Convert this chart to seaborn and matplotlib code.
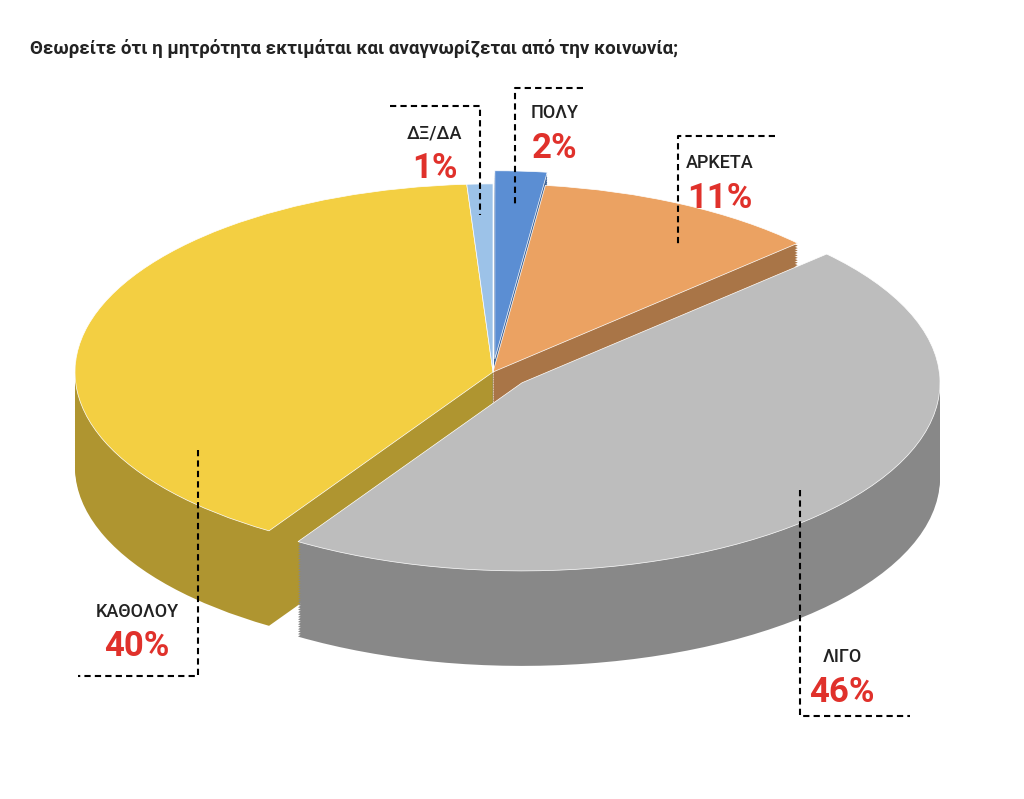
import numpy as np
import matplotlib
matplotlib.use("Agg")
import matplotlib.pyplot as plt
import matplotlib.colors as mcolors
import seaborn as sns

# --- data ---
categories = ["ΠΟΛΥ", "ΑΡΚΕΤΑ", "ΛΙΓΟ", "ΚΑΘΟΛΟΥ", "ΔΞ/ΔΑ"]
values = [2, 11, 46, 40, 1]
colors = ["#5B8ED3", "#EBA262", "#BDBDBD", "#F3CF42", "#9CC2E8"]
explode = [0.07, 0.0, 0.09, 0.0, 0.0]   # fraction of radius
title = "Θεωρείτε ότι η μητρότητα εκτιμάται και αναγνωρίζεται από την κοινωνία;"

# label anchors in figure pixels (x, y of name)
label_pos = {
    "ΔΞ/ΔΑ": (435, 133),
    "ΠΟΛΥ": (555, 113),
    "ΑΡΚΕΤΑ": (720, 163),
    "ΚΑΘΟΛΟΥ": (137, 612),
    "ΛΙΓΟ": (842, 657),
}
brackets = [
    [(390, 106), (480, 106), (480, 215)],
    [(583, 88), (515, 88), (515, 205)],
    [(775, 136), (678, 136), (678, 245)],
    [(198, 450), (198, 676), (78, 676)],
    [(800, 490), (800, 716), (910, 716)],
]

sns.set_style("white")
plt.rcParams['font.family'] = ['Roboto', 'DejaVu Sans']

W, H = 1024, 799
fig = plt.figure(figsize=(W / 100, H / 100), dpi=100)
ax = fig.add_axes([0, 0, 1, 1])
squash = 0.45
cx, cy = 493, (H - 372) / squash
rad = 418
depth = 95 / squash
expl = [e * rad for e in explode]

side_colors = [tuple(c * 0.72 for c in mcolors.to_rgb(col)) for col in colors]
for d in np.linspace(depth, 0, 40)[:-1]:
    ax.pie(values, colors=side_colors, startangle=90, counterclock=False,
           explode=expl, radius=rad, center=(cx, cy - d), frame=True,
           wedgeprops=dict(linewidth=0))
ax.pie(values, colors=colors, startangle=90, counterclock=False,
       explode=expl, radius=rad, center=(cx, cy), frame=True,
       wedgeprops=dict(linewidth=0.5, edgecolor="white"))
ax.set_aspect("auto")
ax.set_xlim(0, W)
ax.set_ylim(0, H / squash)
ax.axis("off")

fig.text(30 / W, 1 - 48 / H, title, fontsize=13.5, fontweight="bold",
         color="#222222", va="center", ha="left")

for cat, val in zip(categories, values):
    x, y = label_pos[cat]
    fig.text(x / W, 1 - y / H, cat, fontsize=13, fontweight="medium",
             color="#222222", ha="center", va="center")
    fig.text(x / W, 1 - (y + 35) / H, f"{val}%", fontsize=25, fontweight="bold",
             color="#E0312B", ha="center", va="center")

for pts in brackets:
    xs = [p[0] / W for p in pts]
    ys = [1 - p[1] / H for p in pts]
    fig.add_artist(plt.Line2D(xs, ys, color="black", linestyle=(0, (3, 2)),
                              linewidth=1.5))

fig.savefig("out.png", dpi=100, facecolor="white")
